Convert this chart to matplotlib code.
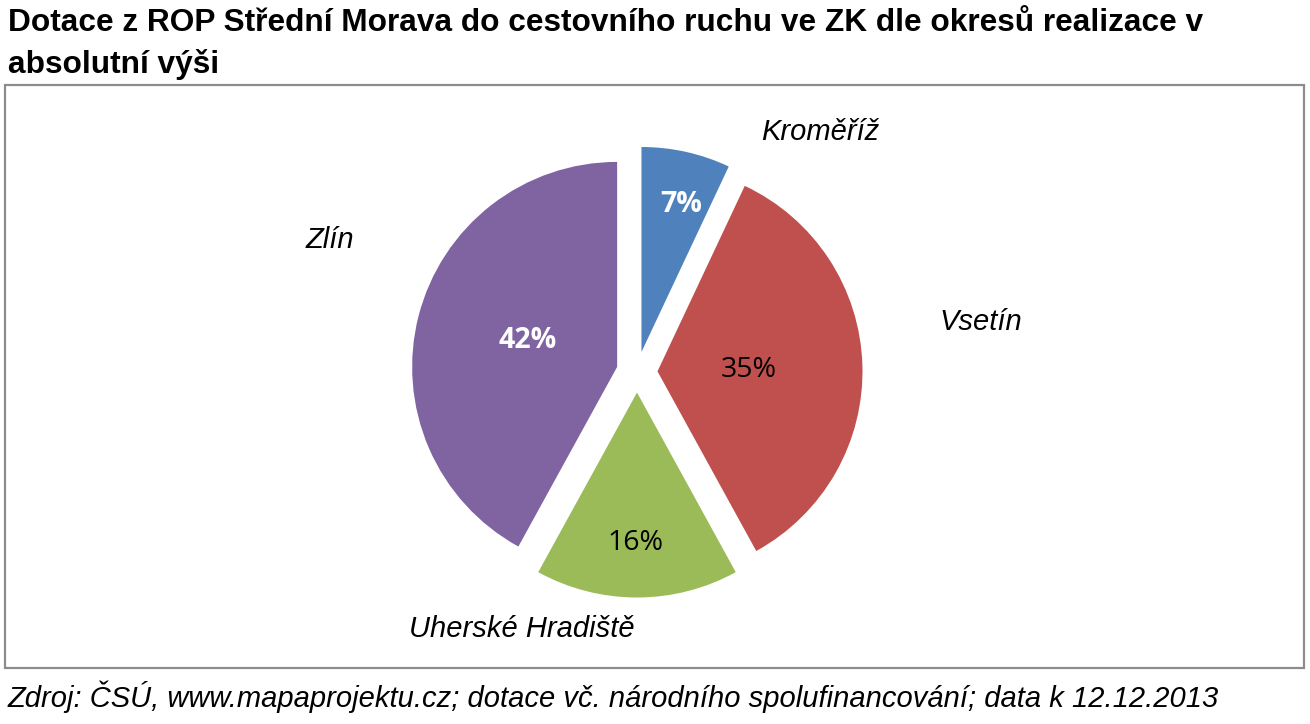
import matplotlib
matplotlib.use("Agg")
import matplotlib.pyplot as plt
from matplotlib.patches import Rectangle

categories = ["Kroměříž", "Vsetín", "Uherské Hradiště", "Zlín"]
shares = [7, 35, 16, 42]
colors = ["#4F81BD", "#C0504D", "#9BBB59", "#8064A2"]
pct_colors = ["white", "black", "black", "white"]
pct_weights = ["bold", "normal", "normal", "bold"]

title = "Dotace z ROP Střední Morava do cestovního ruchu ve ZK dle okresů realizace v\nabsolutní výši"
source = "Zdroj: ČSÚ, www.mapaprojektu.cz; dotace vč. národního spolufinancování; data k 12.12.2013"

W, H = 1310, 724
fig = plt.figure(figsize=(W / 100, H / 100), dpi=100)

# frame
fig.add_artist(Rectangle((5 / W, 1 - 668 / H), 1299 / W, (668 - 85) / H,
                         transform=fig.transFigure, fill=False,
                         edgecolor="#8c8c8c", linewidth=1.6))

# pie axes: centre (637, 372) px, radius 205 px
R = 205
cx, cy = 637, 372
half = 1.5 * R
ax = fig.add_axes([(cx - half) / W, (H - cy - half) / H, 2 * half / W, 2 * half / H])

wedges, _ = ax.pie(shares, colors=colors, startangle=90, counterclock=False,
                   explode=[0.1] * 4, radius=1.0,
                   wedgeprops=dict(linewidth=0))
ax.set_xlim(-1.5, 1.5)
ax.set_ylim(-1.5, 1.5)
ax.set_aspect("equal")
ax.axis("off")

cat_pos = [(820, 132), (981, 322), (522, 629), (330, 240)]
pct_pos = [(681, 205), (749, 370), (635, 543), (528, 340)]

def to_data(p):
    return ((p[0] - cx) / R, (cy - p[1]) / R)

for name, p in zip(categories, cat_pos):
    x, y = to_data(p)
    ax.text(x, y, name, ha="center", va="center", fontsize=21, style="italic",
            family="Liberation Sans", clip_on=False)

for s, p, c, w in zip(shares, pct_pos, pct_colors, pct_weights):
    x, y = to_data(p)
    ax.text(x, y, f"{s}%", ha="center", va="center", fontsize=20.5, color=c,
            weight=w, family="Open Sans", clip_on=False)

# title & source
t = fig.text(8 / W, 1 - 8 / H, title, ha="left", va="top", fontsize=20,
             weight="bold", family="Liberation Sans", linespacing=1.45)
s = fig.text(8 / W, 1 - 707 / H, source, ha="left", va="baseline", fontsize=20,
             style="italic", family="Liberation Sans")

# fit widths
fig.canvas.draw()
r = fig.canvas.get_renderer()
def fit(txt, target):
    bb = txt.get_window_extent(r)
    txt.set_fontsize(txt.get_fontsize() * target / bb.width)
fit(t, 1205 - 8)
fit(s, 1212 - 8)

fig.savefig("out.png", dpi=100)
